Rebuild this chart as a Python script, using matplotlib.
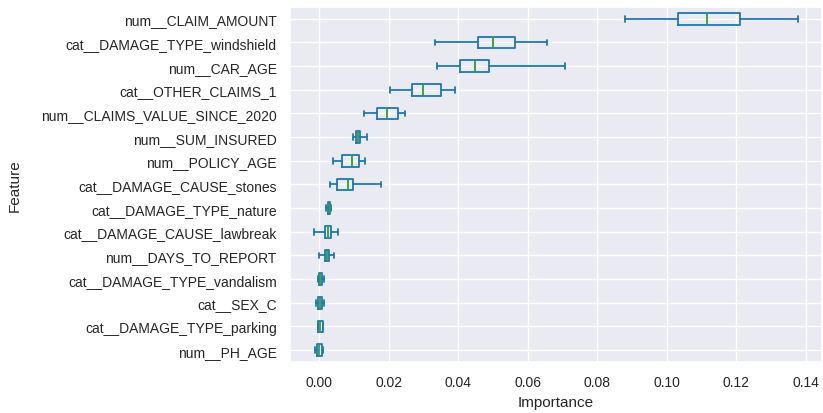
import matplotlib
matplotlib.use('Agg')
import matplotlib.pyplot as plt
import seaborn as sns

# feature names, bottom to top
features = ['num__PH_AGE', 'cat__DAMAGE_TYPE_parking', 'cat__SEX_C',
            'cat__DAMAGE_TYPE_vandalism', 'num__DAYS_TO_REPORT',
            'cat__DAMAGE_CAUSE_lawbreak', 'cat__DAMAGE_TYPE_nature',
            'cat__DAMAGE_CAUSE_stones', 'num__POLICY_AGE', 'num__SUM_INSURED',
            'num__CLAIMS_VALUE_SINCE_2020', 'cat__OTHER_CLAIMS_1',
            'num__CAR_AGE', 'cat__DAMAGE_TYPE_windshield', 'num__CLAIM_AMOUNT']

# permutation importance summary per feature
whisker_low = [-0.0012, -0.0005, -0.0009, -0.0004, -0.0001, -0.0015, 0.0019,
               0.0029, 0.0038, 0.0097, 0.0128, 0.0204, 0.0338, 0.0332, 0.0879]
q1 = [-0.0006, -0.0003, -0.0003, -0.0001, 0.0017, 0.0015, 0.0024,
      0.0052, 0.0065, 0.0104, 0.0167, 0.0267, 0.0404, 0.0457, 0.1031]
median = [0.0000, 0.0002, 0.0002, 0.0003, 0.0022, 0.0024, 0.0029,
          0.0083, 0.0095, 0.0111, 0.0193, 0.0299, 0.0449, 0.0500, 0.1116]
q3 = [0.0006, 0.0009, 0.0008, 0.0007, 0.0027, 0.0032, 0.0031,
      0.0098, 0.0115, 0.0118, 0.0227, 0.0350, 0.0488, 0.0564, 0.1209]
whisker_high = [0.0009, 0.0011, 0.0013, 0.0012, 0.0043, 0.0053, 0.0033,
                0.0177, 0.0131, 0.0138, 0.0247, 0.0389, 0.0708, 0.0655, 0.1377]

sns.set_theme(style='darkgrid')
plt.rcParams['font.family'] = ['Liberation Sans', 'DejaVu Sans']

stats = []
for i in range(len(features)):
    stats.append({'label': features[i], 'whislo': whisker_low[i], 'q1': q1[i],
                  'med': median[i], 'q3': q3[i], 'whishi': whisker_high[i],
                  'fliers': []})

fig = plt.figure(figsize=(8.23, 4.14), dpi=100)
ax = fig.add_axes([0.3524, 0.1232, 0.6466, 0.8575])

blue = '#1f77b4'
ax.bxp(stats, vert=False, widths=0.5, showfliers=False,
       boxprops=dict(color=blue, linewidth=1.3),
       whiskerprops=dict(color=blue, linewidth=1.3),
       capprops=dict(color=blue, linewidth=1.3),
       medianprops=dict(color='#2ca02c', linewidth=1.3))

ax.set_xlabel('Importance', fontsize=11)
ax.set_ylabel('Feature', fontsize=11, labelpad=14)
ax.tick_params(axis='both', labelsize=10)
ax.margins(x=0.05)

fig.savefig('out.png', dpi=100)
